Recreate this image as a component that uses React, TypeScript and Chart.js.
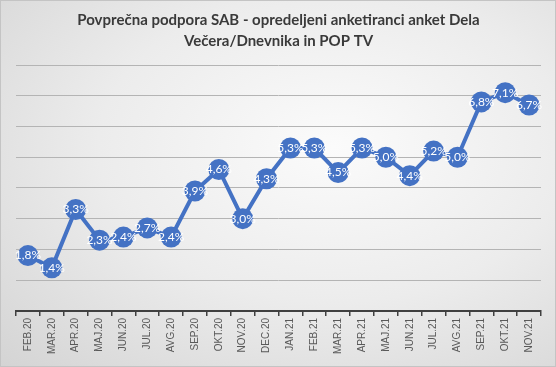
import React, { useEffect, useRef } from "react";
import { Chart, registerables } from "chart.js";

Chart.register(...registerables);

const months = [
  "FEB.20", "MAR.20", "APR.20", "MAJ.20", "JUN.20", "JUL.20", "AVG.20", "SEP.20", "OKT.20", "NOV.20", "DEC.20",
  "JAN.21", "FEB.21", "MAR.21", "APR.21", "MAJ.21", "JUN.21", "JUL.21", "AVG.21", "SEP.21", "OKT.21", "NOV.21",
];
const support = [1.8, 1.4, 3.3, 2.3, 2.4, 2.7, 2.4, 3.9, 4.6, 3.0, 4.3, 5.3, 5.3, 4.5, 5.3, 5.0, 4.4, 5.2, 5.0, 6.8, 7.1, 6.7];
const titleLines = ["Povprečna podpora SAB - opredeljeni anketiranci anket Dela", "Večera/Dnevnika in POP TV"];

const labelPlugin = {
  id: "pointLabels",
  afterDatasetsDraw(chart: any) {
    const ctx = chart.ctx;
    const meta = chart.getDatasetMeta(0);
    ctx.save();
    ctx.font = "12px Lato";
    ctx.fillStyle = "#ffffff";
    ctx.textAlign = "center";
    ctx.textBaseline = "middle";
    meta.data.forEach((pt: any, i: number) => {
      const v = support[i];
      ctx.fillText(v.toFixed(1).replace(".", ",") + "%", pt.x, pt.y);
    });
    ctx.restore();
  },
};

export default function App() {
  const ref = useRef<HTMLCanvasElement>(null);
  useEffect(() => {
    document.body.style.margin = "0";
    const chart = new Chart(ref.current!, {
      type: "line",
      data: {
        labels: months,
        datasets: [
          {
            data: support,
            borderColor: "#4472C4",
            backgroundColor: "#4472C4",
            borderWidth: 4,
            pointRadius: 10.5,
            pointBorderWidth: 0,
            pointBackgroundColor: "#4472C4",
            tension: 0,
          },
        ],
      },
      options: {
        animation: false,
        responsive: false,
        layout: { padding: { left: 15, right: 14, top: 0, bottom: 10 } },
        plugins: {
          legend: { display: false },
          tooltip: { enabled: false },
          title: {
            display: true,
            text: titleLines,
            color: "#3a3a3a",
            font: { family: "Lato", size: 15, weight: "bold", lineHeight: 1.4 },
            padding: { top: 9, bottom: 13 },
          },
        },
        scales: {
          x: {
            offset: true,
            grid: { display: true, drawOnChartArea: false, drawTicks: true, tickLength: 5, color: "#404040", lineWidth: 1.5, offset: true },
            border: { display: true, color: "#404040", width: 2 },
            ticks: { minRotation: 90, maxRotation: 90, color: "#595959", font: { family: "Liberation Sans", size: 10 }, padding: 2, autoSkip: false },
          },
          y: {
            min: 0,
            max: 8,
            display: true,
            ticks: { display: false, stepSize: 1 },
            border: { display: false },
            grid: { color: "#b4b4b4", drawTicks: false, lineWidth: 1 },
          },
        },
      },
      plugins: [labelPlugin],
    });
    return () => chart.destroy();
  }, []);
  return (
    <div
      style={{
        position: "absolute",
        left: 0,
        top: 0,
        width: 556,
        height: 367,
        boxSizing: "border-box",
        border: "1px solid #c4c4c4",
        background: "radial-gradient(ellipse at 60% 40%, #fbfbfb 0%, #ececec 50%, #d4d4d4 100%)",
      }}
    >
      <canvas ref={ref} width={554} height={365} style={{ width: 554, height: 365, display: "block" }} />
    </div>
  );
}
